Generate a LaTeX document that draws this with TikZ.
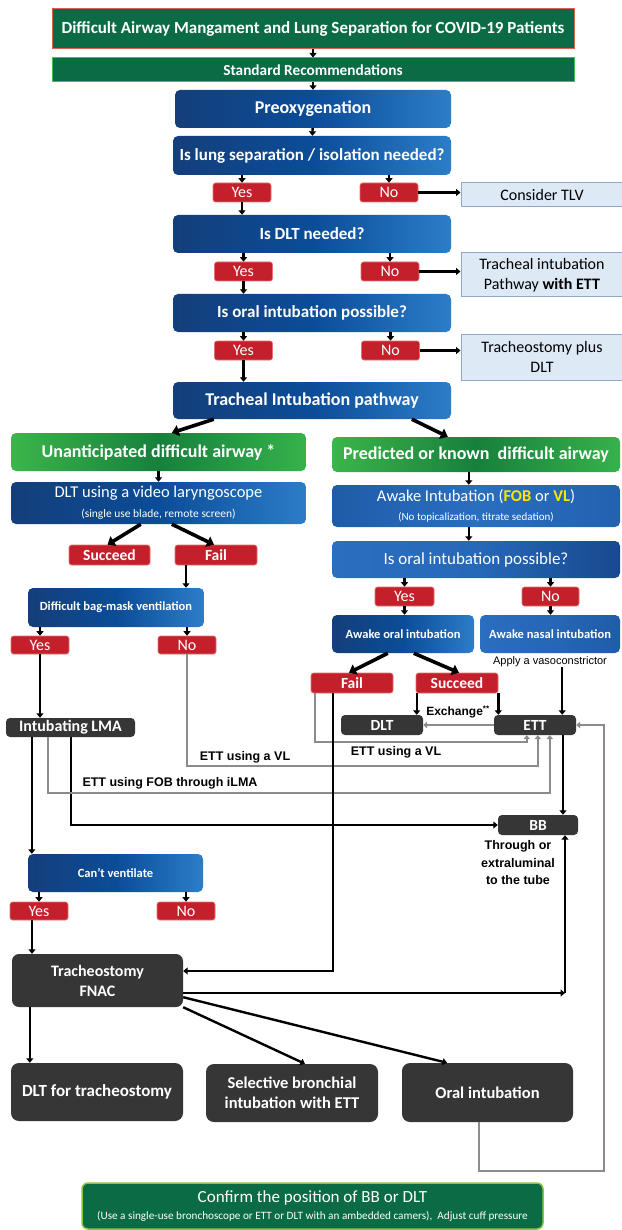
\documentclass[tikz,border=0pt]{standalone}
\usepackage{fontspec}
\setmainfont{Carlito}
\newfontfamily\arialf{Liberation Sans}
\usetikzlibrary{arrows.meta,calc}
\definecolor{dkgreen}{HTML}{0B6B45}
\definecolor{ttlborder}{HTML}{E0604F}
\definecolor{stdborder}{HTML}{3DBE5A}
\definecolor{cfborder}{HTML}{8CC63F}
\definecolor{redbox}{HTML}{C4202B}
\definecolor{redborder}{HTML}{E8716F}
\definecolor{ltblue}{HTML}{DDEAF6}
\definecolor{ltblueborder}{HTML}{8EA9C8}
\definecolor{blueL}{HTML}{143F7A}
\definecolor{blueM}{HTML}{0B4C98}
\definecolor{blueR}{HTML}{2C7DC8}
\definecolor{mblueA}{HTML}{1F5CA8}
\definecolor{mblueB}{HTML}{2A6EC0}
\definecolor{mblueC}{HTML}{17498E}
\definecolor{grnL}{HTML}{3CB54A}
\definecolor{grnM}{HTML}{17803C}
\definecolor{grnR}{HTML}{36B24B}
\definecolor{darkbox}{HTML}{363636}
\definecolor{lineg}{HTML}{8C8C8C}
\definecolor{yel}{HTML}{FFE600}
\newcommand\fsz[2]{\fontsize{#1}{#2}\selectfont}
\tikzset{
  base/.style={inner sep=0pt, align=center, text=white},
  gbox/.style={base, fill=dkgreen, draw=#1, line width=1pt},
  bbox/.style={base, rounded corners=5pt, left color=blueL, right color=blueR, middle color=blueM},
  awbox/.style={base, rounded corners=5pt, left color=mblueA, right color=mblueA!70!mblueB, middle color=mblueB},
  rbbox/.style={base, rounded corners=5pt, left color=mblueB, right color=mblueC, middle color=mblueB!85!mblueC},
  nbbox/.style={base, rounded corners=5pt, left color=mblueB, right color=mblueA, middle color=mblueB!60!mblueA},
  grbox/.style={base, rounded corners=5pt, left color=grnL, right color=grnR, middle color=grnM},
  rbox/.style={base, rounded corners=2.5pt, fill=redbox, draw=redborder, line width=0.6pt},
  lbbox/.style={base, text=black, fill=ltblue, draw=ltblueborder, line width=1pt},
  dbox/.style={base, fill=darkbox, rounded corners=#1},
  dbox/.default=4pt,
  lbl/.style={inner sep=0pt, align=center, text=black, font=\arialf\bfseries\fsz{12.5}{17.5}},
  arr/.style={draw=black, line width=2.4pt, -{Triangle[length=4.5pt,width=7pt]}},
  darr/.style={draw=black, line width=3.6pt, -{Triangle[length=7pt,width=11pt]}},
  garr/.style={draw=lineg, line width=2.2pt, -{Triangle[length=4pt,width=6.5pt]}},
}
\begin{document}
\begin{tikzpicture}[x=1pt,y=-1pt]
\fill[white] (0,0) rectangle (621,1230);
\useasboundingbox (0,0) rectangle (621,1230);

% ---------- top part ----------
\node[gbox=ttlborder, minimum width=522pt, minimum height=40pt, font=\bfseries\fsz{17}{20}] (title) at (313,29) {Difficult Airway Mangament and Lung Separation for COVID-19 Patients};
\node[gbox=stdborder, minimum width=522pt, minimum height=24pt, font=\bfseries\fsz{15.3}{18}] (std) at (313,70) {Standard Recommendations};
\node[bbox, minimum width=276pt, minimum height=38pt, font=\bfseries\fsz{18}{21}] (preox) at (313,109) {Preoxygenation};
\node[bbox, minimum width=278pt, minimum height=39pt, font=\bfseries\fsz{17}{20}] (q1) at (312,155.5) {Is lung separation / isolation needed?};
\node[rbox, minimum width=58pt, minimum height=19pt, font=\fsz{16}{19}] (y1) at (242,192.5) {Yes};
\node[rbox, minimum width=58pt, minimum height=19pt, font=\fsz{16}{19}] (n1) at (389,192.5) {No};
\node[lbbox, minimum width=162pt, minimum height=24pt, font=\fsz{16}{19}] (tlv) at (542,195) {Consider TLV};
\node[bbox, minimum width=278pt, minimum height=38pt, font=\bfseries\fsz{17}{20}] (q2) at (312,234) {Is DLT needed?};
\node[rbox, minimum width=58pt, minimum height=19pt, font=\fsz{16}{19}] (y2) at (243.5,271.5) {Yes};
\node[rbox, minimum width=58pt, minimum height=19pt, font=\fsz{16}{19}] (n2) at (390,271.5) {No};
\node[lbbox, minimum width=162pt, minimum height=44pt, font=\fsz{16}{20}] (tipett) at (542,275) {Tracheal intubation\\Pathway \textbf{with ETT}};
\node[bbox, minimum width=278pt, minimum height=38pt, font=\bfseries\fsz{17}{20}] (q3) at (312,313) {Is oral intubation possible?};
\node[rbox, minimum width=58pt, minimum height=19pt, font=\fsz{16}{19}] (y3) at (243.5,350.5) {Yes};
\node[rbox, minimum width=58pt, minimum height=19pt, font=\fsz{16}{19}] (n3) at (390.5,350.5) {No};
\node[lbbox, minimum width=162pt, minimum height=46pt, font=\fsz{16}{19.5}] (tpd) at (542,357) {Tracheostomy plus\\DLT};
\node[bbox, minimum width=278pt, minimum height=37pt, font=\bfseries\fsz{18}{21}] (tip) at (312,400.5) {Tracheal Intubation pathway};

% ---------- two branches ----------
\node[grbox, minimum width=295pt, minimum height=38pt, font=\bfseries\fsz{18}{21}] (una) at (158.5,452) {Unanticipated difficult airway *};
\node[grbox, minimum width=288pt, minimum height=35pt, font=\bfseries\fsz{18}{21}] (pred) at (476,454.5) {Predicted or known\ \ difficult airway};
\node[bbox, minimum width=295pt, minimum height=42pt, font=\fsz{11.5}{20}] (dltvl) at (158.5,503) {{\fsz{16.5}{20}DLT using a video laryngoscope}\\(single use blade, remote screen)};
\node[awbox, minimum width=288pt, minimum height=42pt, font=\fsz{11}{19}] (awake) at (476,506) {{\fsz{16.5}{19}Awake Intubation (\textcolor{yel}{\textbf{FOB}} or \textcolor{yel}{\textbf{VL}})}\\(No topicalization, titrate sedation)};
\node[rbox, minimum width=81pt, minimum height=20pt, font=\bfseries\fsz{15.5}{18}] (suc1) at (109.5,555) {Succeed};
\node[rbox, minimum width=82pt, minimum height=20pt, font=\bfseries\fsz{15.5}{18}] (fail1) at (216,555) {Fail};
\node[rbbox, minimum width=288pt, minimum height=37pt, font=\fsz{17}{20}] (q4) at (476,559.5) {Is oral intubation possible?};
\node[bbox, minimum width=176pt, minimum height=39pt, font=\bfseries\fsz{12.5}{15}] (bag) at (116,607.5) {Difficult bag-mask ventilation};
\node[rbox, minimum width=58pt, minimum height=18pt, font=\fsz{16}{19}] (y4) at (40,645) {Yes};
\node[rbox, minimum width=58pt, minimum height=18pt, font=\fsz{16}{19}] (n4) at (187,645) {No};
\node[rbox, minimum width=59pt, minimum height=19pt, font=\fsz{16}{19}] (y5) at (404.5,596.5) {Yes};
\node[rbox, minimum width=57pt, minimum height=19pt, font=\fsz{16}{19}] (n5) at (550.5,596.5) {No};
\node[bbox, minimum width=142pt, minimum height=38pt, font=\bfseries\fsz{12.5}{15}] (aoral) at (403,634) {Awake oral intubation};
\node[nbbox, minimum width=140pt, minimum height=38pt, font=\bfseries\fsz{12.5}{15}] (anasal) at (550,634) {Awake nasal intubation};
\node[inner sep=0pt, text=black, font=\arialf\fsz{11}{13}] (vaso) at (550,662) {Apply a vasoconstrictor};
\node[rbox, minimum width=82pt, minimum height=20pt, font=\bfseries\fsz{15.5}{18}] (fail2) at (352,683) {Fail};
\node[rbox, minimum width=82pt, minimum height=20pt, font=\bfseries\fsz{15.5}{18}] (suc2) at (457,683) {Succeed};
\node[dbox, minimum width=129pt, minimum height=19pt, font=\bfseries\fsz{16}{19}] (lma) at (70.5,727.5) {Intubating LMA};
\node[dbox, minimum width=82pt, minimum height=20pt, font=\bfseries\fsz{15.5}{18}] (dlt) at (382,725) {DLT};
\node[dbox, minimum width=82pt, minimum height=20pt, font=\bfseries\fsz{15.5}{18}] (ett) at (535,725) {ETT};
\node[lbl, font=\arialf\bfseries\fsz{12}{14}] (exch) at (458,712) {Exchange\textsuperscript{**}};
\node[lbl] (lblA) at (396,752) {ETT using a VL};
\node[lbl] (lblB) at (245,757) {ETT using a VL};
\node[lbl] (lblC) at (170,783) {ETT using FOB through iLMA};
\node[dbox, minimum width=80pt, minimum height=20pt, font=\bfseries\fsz{15.5}{18}] (bb) at (538,825) {BB};
\node[lbl] (thr) at (518,863) {Through or\\extraluminal\\to the tube};
\node[bbox, minimum width=175pt, minimum height=38pt, font=\bfseries\fsz{12.5}{15}] (cant) at (115.5,873) {Can’t ventilate};
\node[rbox, minimum width=58pt, minimum height=18pt, font=\fsz{16}{19}] (y6) at (39,911) {Yes};
\node[rbox, minimum width=58pt, minimum height=18pt, font=\fsz{16}{19}] (n6) at (186,911) {No};
\node[dbox=7pt, minimum width=171pt, minimum height=53pt, font=\bfseries\fsz{16}{20}] (fnac) at (97.5,980.5) {Tracheostomy\\FNAC};
\node[dbox=8pt, minimum width=172pt, minimum height=58pt, font=\bfseries\fsz{17}{20}] (dltt) at (97,1092) {DLT for tracheostomy};
\node[dbox=8pt, minimum width=172pt, minimum height=58pt, font=\bfseries\fsz{16.5}{20}] (sel) at (292,1093) {Selective bronchial\\intubation with ETT};
\node[dbox=8pt, minimum width=171pt, minimum height=59pt, font=\bfseries\fsz{16.5}{20}] (oral) at (487.5,1092.5) {Oral intubation};
\node[base, fill=dkgreen, draw=cfborder, line width=1.5pt, rounded corners=6pt, minimum width=461pt, minimum height=46pt, font=\fsz{11.2}{17}] (confirm) at (312.5,1206) {{\fsz{17}{17}Confirm the position of BB or DLT}\\(Use a single-use bronchoscope or ETT or DLT with an ambedded camers),\ \ Adjust cuff pressure};

% ---------- helper coordinates ----------
\coordinate (tipL) at ([xshift=41pt]tip.south west);
\coordinate (tipLe) at ([xshift=161pt]una.north west);
\coordinate (tipR) at ([xshift=239pt]tip.south west);
\coordinate (tipRe) at ([xshift=116pt]pred.north west);
\coordinate (pA) at ([xshift=137pt]pred.south west);
\coordinate (aA) at ([xshift=137pt]awake.south west);
\coordinate (fa) at ([xshift=-30pt]fail1.south);
\coordinate (vA) at ([xshift=-14pt]ett.north east);
\coordinate (sA) at ([xshift=1pt]suc2.south west);
\coordinate (fA) at ([xshift=4pt]fail2.south west);
\coordinate (fB) at ([xshift=22pt]fail2.south west);
\coordinate (eA) at ([xshift=33pt]ett.south west);
\coordinate (eB) at ([xshift=44pt]ett.south west);
\coordinate (eC) at ([xshift=56pt]ett.south west);
\coordinate (eD) at ([xshift=28pt]ett.south);
\coordinate (rowA) at (0,742);
\coordinate (rowB) at (0,766);
\coordinate (rowC) at (0,793);
\coordinate (rowD) at (0,1171);
\coordinate (colR) at (604,0);
\coordinate (lA) at ([xshift=42pt]lma.south west);
\coordinate (lB) at ([xshift=65pt]lma.south west);
\coordinate (lC) at ([xshift=26pt]lma.south west);
\coordinate (fnA) at ([yshift=9.5pt]fnac.east);
\coordinate (fnB) at ([yshift=-12.5pt]fnac.east);
\coordinate (bA) at ([xshift=27pt]bb.south);
\coordinate (yA) at ([xshift=-7pt]y6.south);
\coordinate (fnC) at ([xshift=18pt]fnac.south west);
\coordinate (oA) at ([xshift=77pt]oral.south west);

% ---------- connectors: top ----------
\draw[arr] (title) -- (std);
\draw[arr] (std) -- (preox);
\draw[arr] (preox) -- (q1);
\draw[arr] (y1.north |- q1.south) -- (y1.north);
\draw[arr] (n1.north |- q1.south) -- (n1.north);
\draw[arr] (n1.east) -- (n1.east -| tlv.west);
\draw[arr] (y1.south) -- (y1.south |- q2.north);
\draw[arr] (y2.north |- q2.south) -- (y2.north);
\draw[arr] (n2.north |- q2.south) -- (n2.north);
\draw[arr] (n2.east) -- (n2.east -| tipett.west);
\draw[arr] (y2.south) -- (y2.south |- q3.north);
\draw[arr] (y3.north |- q3.south) -- (y3.north);
\draw[arr] (n3.north |- q3.south) -- (n3.north);
\draw[arr] (n3.east) -- (n3.east -| tpd.west);
\draw[arr] (y3.south) -- (y3.south |- tip.north);
\draw[darr] (tipL) -- (tipLe);
\draw[darr] (tipR) -- (tipRe);

% ---------- left branch ----------
\draw[arr] (una.south) -- (una.south |- dltvl.north);
\draw[darr] ([xshift=130pt]dltvl.south west) -- ([xshift=-2pt]suc1.north);
\draw[darr] ([xshift=161pt]dltvl.south west) -- ([xshift=-2pt]fail1.north);
\draw[arr] (fa) -- (fa |- bag.north);
\draw[arr] (y4.north |- bag.south) -- (y4.north);
\draw[arr] (n4.north |- bag.south) -- (n4.north);
\draw[arr] (y4.south) -- (y4.south |- lma.north);
\draw[arr] (lC) -- (lC |- cant.north);
\draw[arr] (lB) |- (bb.west);
\draw[garr] (lA) -- (lA |- rowC) -| (eC);
\draw[garr] (n4.south) -- (n4.south |- rowB) -| (eB);
\draw[arr] (y6.north |- cant.south) -- (y6.north);
\draw[arr] (n6.north |- cant.south) -- (n6.north);
\draw[arr] (yA) -- (yA |- fnac.north);

% ---------- right branch ----------
\draw[arr] (pA) -- (pA |- awake.north);
\draw[arr] (aA) -- (aA |- q4.north);
\draw[arr] (y5.north |- q4.south) -- (y5.north);
\draw[arr] (n5.north |- q4.south) -- (n5.north);
\draw[arr] (y5.south) -- (y5.south |- aoral.north);
\draw[arr] (n5.south) -- (n5.south |- anasal.north);
\draw[darr] ([xshift=56pt]aoral.south west) -- ([xshift=-3pt]fail2.north);
\draw[darr] ([xshift=82pt]aoral.south west) -- ([xshift=2pt]suc2.north);
\draw[arr] (vA |- vaso.south) -- (vA);
\draw[arr] (sA) -- (sA |- dlt.north);
\draw[arr] (suc2.south east) -- (suc2.south east |- ett.north);
\draw[garr] (ett.west) -- (dlt.east);
\draw[garr] (fA) -- (fA |- rowA) -| (eA);
\draw[arr] (fB) |- (fnA);
\draw[arr] (eD) -- (eD |- bb.north);
\draw[garr] (oA) -- (oA |- rowD) -| (colR |- ett.east) -- (ett.east);
\draw[arr] (fnB) -- (bA |- fnB);
\draw[arr] (bA |- fnB) -- (bA);

% ---------- tracheostomy outcomes ----------
\draw[arr] (fnC) -- (fnC |- dltt.north);
\draw[arr] (fnac.south east) -- ([xshift=13pt]sel.north);
\draw[arr] ([yshift=10pt]fnac.south east) -- ([xshift=-40.5pt]oral.north);
\end{tikzpicture}
\end{document}
